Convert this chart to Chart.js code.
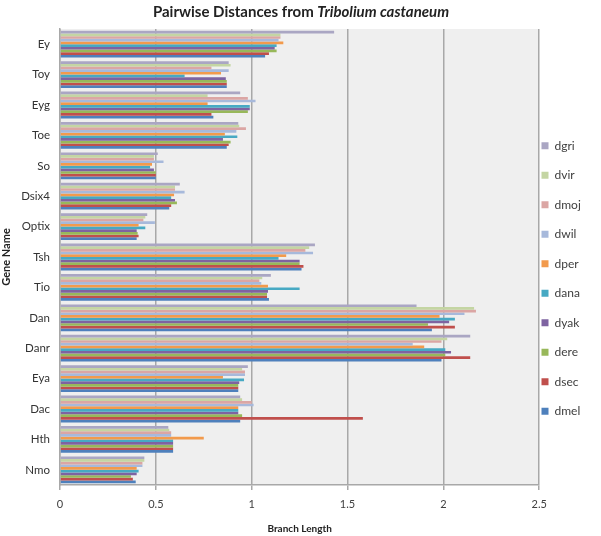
<!DOCTYPE html>
<html><head><meta charset="utf-8">
<script src="https://cdn.jsdelivr.net/npm/chart.js@4.4.0/dist/chart.umd.min.js"></script>
<style>html,body{margin:0;padding:0;background:#fff;}</style>
</head><body>
<canvas id="c" width="601" height="536"></canvas>
<script>
const genes = ['Ey','Toy','Eyg','Toe','So','Dsix4','Optix','Tsh','Tio','Dan','Danr','Eya','Dac','Hth','Nmo'];
const species = ['dgri','dvir','dmoj','dwil','dper','dana','dyak','dere','dsec','dmel'];
const dgri = [1.43,0.88,0.94,0.93,0.51,0.625,0.455,1.33,1.10,1.86,2.14,0.98,0.94,0.565,0.44];
const dvir = [1.15,0.89,0.77,0.935,0.49,0.60,0.445,1.30,1.055,2.16,2.02,0.95,0.95,0.57,0.44];
const dmoj = [1.15,0.79,0.98,0.97,0.49,0.60,0.435,1.28,1.04,2.17,1.99,0.965,1.00,0.58,0.43];
const dwil = [1.14,0.88,1.02,0.92,0.54,0.65,0.495,1.32,1.05,2.11,1.84,0.965,1.01,0.58,0.43];
const dper = [1.165,0.84,0.77,0.86,0.48,0.595,0.41,1.18,1.085,1.98,1.90,0.85,0.93,0.75,0.40];
const dana = [1.13,0.65,0.99,0.925,0.47,0.58,0.445,1.14,1.25,2.06,2.01,0.96,0.93,0.59,0.41];
const dyak = [1.12,0.865,0.99,0.85,0.49,0.60,0.40,1.25,1.085,2.03,2.04,0.935,0.93,0.59,0.40];
const dere = [1.13,0.87,0.98,0.89,0.50,0.61,0.405,1.25,1.08,1.92,2.01,0.93,0.95,0.59,0.37];
const dsec = [1.09,0.87,0.79,0.88,0.50,0.58,0.41,1.27,1.08,2.06,2.14,0.93,1.58,0.59,0.38];
const dmel = [1.07,0.87,0.80,0.87,0.50,0.57,0.40,1.26,1.09,1.94,1.99,0.93,0.94,0.59,0.395];
const xTickLabels = ['0','0.5','1','1.5','2','2.5'];
const titleMain = 'Pairwise Distances from ';
const titleItalic = 'Tribolium castaneum';
const xTitle = 'Branch Length';
const yTitle = 'Gene Name';

const seriesValues = [dgri,dvir,dmoj,dwil,dper,dana,dyak,dere,dsec,dmel];
const seriesColors = ['#aaa6c3','#c4d5a3','#dba6a4','#a7b9db','#f29a4c','#47a9c3','#7e63a1','#98b85a','#c04f4c','#4e80bc'];
const FONT = "Lato, 'Open Sans', sans-serif";

const bgPlugin = {
  id: 'bg',
  beforeDraw(chart) {
    const {ctx, chartArea: a} = chart;
    ctx.save();
    ctx.fillStyle = '#ffffff';
    ctx.fillRect(0, 0, chart.width, chart.height);
    ctx.fillStyle = '#efefef';
    ctx.fillRect(a.left, a.top, a.right - a.left, a.bottom - a.top);
    ctx.restore();
  }
};
const titlePlugin = {
  id: 'mixedTitle',
  afterDraw(chart) {
    const ctx = chart.ctx;
    ctx.save();
    ctx.fillStyle = '#222';
    ctx.textBaseline = 'middle';
    const f1 = "bold 15px " + FONT, f2 = "italic bold 15px " + FONT;
    ctx.font = f1; const w1 = ctx.measureText(titleMain).width;
    ctx.font = f2; const w2 = ctx.measureText(titleItalic).width;
    let x = 301 - (w1 + w2) / 2;
    ctx.font = f1; ctx.fillText(titleMain, x, 12);
    ctx.font = f2; ctx.fillText(titleItalic, x + w1, 12);
    ctx.restore();
  }
};
const legendShift = {
  id: 'legendShift',
  afterLayout(chart) {
    const lg = chart.legend;
    if (!lg) return;
    const d = lg.left - 524;
    lg.left -= d; lg.right -= d;
    lg.top -= 4; lg.bottom -= 4;
    if (lg.legendHitBoxes) lg.legendHitBoxes.forEach(b => { b.left -= d; });
  }
};

new Chart(document.getElementById('c'), {
  type: 'bar',
  data: {
    labels: genes,
    datasets: species.map((s, i) => ({
      label: s,
      data: seriesValues[i],
      backgroundColor: seriesColors[i],
      borderWidth: 0,
      categoryPercentage: 0.88,
      barPercentage: 1.0
    }))
  },
  options: {
    indexAxis: 'y',
    responsive: false,
    animation: false,
    devicePixelRatio: 1,
    layout: { padding: { top: 29, right: -5, bottom: 0, left: 0 } },
    scales: {
      x: {
        min: 0, max: 2.5,
        ticks: { stepSize: 0.5, color: '#404040', font: { family: FONT, size: 11 }, padding: 8,
          callback: (v, i) => xTickLabels[i] },
        grid: { color: '#a8a8a8', lineWidth: 1.5, tickLength: 5, drawTicks: true },
        border: { display: true, color: '#a8a8a8', width: 1.5 },
        title: { display: true, text: xTitle, color: '#222', font: { family: FONT, size: 10, weight: 'bold' }, padding: { top: 4, bottom: 1 } },
        afterFit(scale) { scale.height = 51; }
      },
      y: {
        ticks: { color: '#333', font: { family: FONT, size: 11.5 }, padding: 10, autoSkip: false },
        grid: { display: false, drawTicks: false },
        border: { display: true, color: '#a8a8a8', width: 1.5 },
        title: { display: true, text: yTitle, color: '#222', font: { family: FONT, size: 11, weight: 'bold' }, padding: { top: 0, bottom: 0 } },
        afterFit(scale) { scale.width = 60; }
      }
    },
    plugins: {
      title: { display: false },
      tooltip: { enabled: false },
      legend: {
        position: 'right',
        labels: { boxWidth: 7, boxHeight: 7, padding: 17.5, color: '#404040', font: { family: FONT, size: 12 } }
      }
    }
  },
  plugins: [bgPlugin, titlePlugin, legendShift]
});
</script>
</body></html>
